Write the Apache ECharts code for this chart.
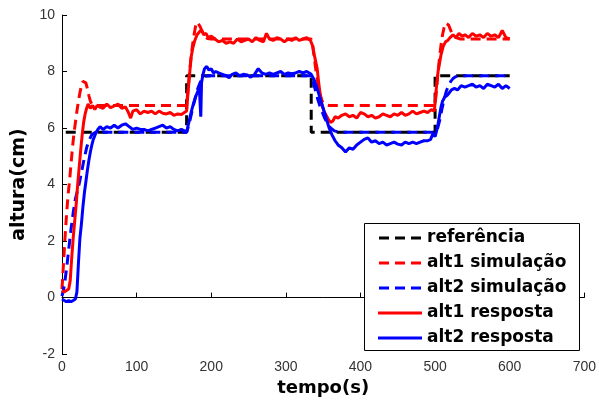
<!DOCTYPE html>
<html>
<head>
<meta charset="utf-8">
<script src="https://cdn.jsdelivr.net/npm/echarts@6/dist/echarts.min.js"></script>
<style>
  html, body { margin: 0; padding: 0; background: #fff; }
  #chart { width: 599px; height: 402px; }
</style>
</head>
<body>
<div id="chart"></div>
<script>
// referência (degraus)
const refTime = [5, 167, 167, 334, 334, 500, 500, 600];
const refHeight = [5.85, 5.85, 7.85, 7.85, 5.85, 5.85, 7.85, 7.85];

// alt1 simulação
const sim1Time = [0, 2, 4, 6, 8, 10, 12, 14, 16, 18, 20, 22, 24, 26, 28, 30, 32, 34, 36, 38, 40, 43, 47, 55,
  167, 169, 171, 173, 175, 177, 179, 181, 183, 185, 188, 191, 195, 200,
  334, 336, 338, 340, 342, 344, 346, 348, 350, 353, 358,
  500, 502, 504, 506, 508, 510, 512, 514, 516, 518, 521, 524, 528, 534, 600];
const sim1Height = [0.3, 1.2, 2.1, 2.9, 3.6, 4.1, 4.7, 5.3, 5.8, 6.2, 6.6, 6.95, 7.25, 7.5, 7.65, 7.7, 7.6, 7.4, 7.15, 6.95, 6.85, 6.8, 6.8, 6.8,
  6.8, 7.4, 8.0, 8.5, 8.95, 9.3, 9.6, 9.75, 9.72, 9.6, 9.4, 9.25, 9.17, 9.15,
  9.15, 8.9, 8.5, 8.1, 7.75, 7.45, 7.2, 7.0, 6.88, 6.82, 6.8,
  6.8, 7.4, 8.0, 8.5, 8.95, 9.3, 9.55, 9.72, 9.75, 9.65, 9.45, 9.3, 9.2, 9.15, 9.15];

// alt2 simulação
const sim2Time = [0, 3, 6, 9, 12, 15, 18, 21, 24, 27, 30, 33, 36, 40, 45,
  167, 170, 173, 176, 179, 182, 185, 188, 192, 198,
  334, 337, 340, 343, 346, 349, 352, 356, 360, 365, 372,
  500, 503, 506, 509, 512, 515, 518, 521, 524, 528, 534, 600];
const sim2Height = [0.05, 0.4, 1.0, 1.7, 2.4, 3.0, 3.5, 3.8, 4.15, 4.55, 4.95, 5.3, 5.55, 5.77, 5.85,
  5.85, 6.1, 6.45, 6.8, 7.1, 7.4, 7.6, 7.75, 7.83, 7.85,
  7.85, 7.6, 7.3, 7.0, 6.75, 6.55, 6.35, 6.15, 6.0, 5.9, 5.85,
  5.85, 5.95, 6.25, 6.65, 7.0, 7.3, 7.5, 7.65, 7.75, 7.82, 7.85, 7.85];

// alt1 resposta (medida)
const resp1Time = [0, 3, 6, 9, 11, 13, 15, 17, 19, 21, 23, 25, 27, 29, 31, 33, 35, 38, 41, 44,
  47, 50, 55, 60, 65, 70, 75, 80, 85, 89, 92, 95, 100, 105, 110, 115, 120, 125, 130, 135,
  140, 145, 150, 155, 160, 164, 167, 169, 171, 173, 175, 178, 181, 184, 187, 190, 193, 196, 200, 205,
  210, 215, 220, 225, 230, 235, 240, 245, 250, 255, 260, 265, 270, 274, 278, 283, 288, 293, 298, 303,
  308, 313, 318, 323, 328, 333, 336, 338, 340, 342, 344, 346, 348, 351, 354, 357, 360, 363, 366, 370,
  375, 380, 385, 390, 395, 400, 405, 410, 415, 420, 425, 430, 435, 440, 445, 450, 455, 460, 465, 470,
  475, 480, 485, 490, 495, 499, 502, 504, 506, 508, 511, 514, 517, 520, 524, 528, 532, 536, 540, 545,
  550, 555, 560, 565, 570, 575, 580, 585, 590, 595, 600];
const resp1Height = [0.25, 0.2, 0.25, 0.3, 0.6, 1.4, 2.1, 2.7, 3.3, 4.0, 4.6, 5.2, 5.75, 6.2, 6.5, 6.7, 6.85, 6.7, 6.8, 6.65,
  6.8, 6.75, 6.7, 6.85, 6.72, 6.78, 6.85, 6.7, 6.75, 6.55, 6.35, 6.6, 6.65, 6.5, 6.6, 6.55, 6.6, 6.5, 6.6, 6.52,
  6.5, 6.55, 6.45, 6.5, 6.48, 6.55, 6.6, 7.3, 7.9, 8.5, 8.8, 9.1, 9.3, 9.4, 9.47, 9.3, 9.35, 9.2, 9.25, 9.15,
  9.05, 9.1, 9.0, 9.05, 9.0, 9.15, 9.05, 9.1, 9.15, 9.05, 9.2, 9.1, 9.05, 9.35, 9.15, 9.1, 9.2, 9.15, 9.05, 9.15,
  9.1, 9.2, 9.1, 9.15, 9.2, 9.1, 8.9, 8.6, 8.35, 8.1, 7.6, 7.2, 6.85, 6.6, 6.45, 6.3, 6.2, 6.25, 6.4, 6.35,
  6.45, 6.5, 6.4, 6.45, 6.35, 6.55, 6.5, 6.4, 6.45, 6.35, 6.4, 6.5, 6.45, 6.4, 6.5, 6.45, 6.55, 6.45, 6.5, 6.6,
  6.5, 6.55, 6.6, 6.55, 6.65, 6.6, 7.5, 8.0, 8.3, 8.6, 8.9, 9.05, 9.1, 9.2, 9.3, 9.2, 9.35, 9.25, 9.3, 9.2,
  9.35, 9.25, 9.3, 9.2, 9.35, 9.25, 9.3, 9.2, 9.45, 9.2, 9.15];

// alt2 resposta (medida)
const resp2Time = [0, 3, 6, 9, 12, 15, 18, 20, 22, 24, 26, 28, 30, 32, 34, 36, 38, 40, 42, 45,
  48, 51, 55, 60, 65, 70, 75, 80, 85, 90, 95, 100, 105, 110, 115, 120, 125, 130, 135, 140,
  145, 150, 155, 160, 164, 167, 170, 173, 176, 179, 182, 184, 186, 187, 189, 191, 194, 197, 200, 203,
  206, 210, 215, 220, 224, 228, 233, 238, 243, 248, 253, 258, 263, 268, 273, 278, 283, 288, 293, 298,
  303, 308, 313, 318, 323, 328, 334, 338, 342, 346, 350, 354, 358, 362, 366, 370, 375, 380, 385, 390,
  395, 400, 405, 410, 415, 420, 425, 430, 435, 440, 445, 450, 455, 460, 465, 470, 475, 480, 485, 490,
  494, 497, 500, 502, 504, 506, 508, 510, 513, 516, 519, 522, 526, 530, 535, 540, 545, 550, 555, 560,
  565, 570, 575, 580, 585, 590, 595, 600];
const resp2Height = [-0.05, -0.1, -0.15, -0.1, -0.15, -0.1, -0.05, 0.2, 1.2, 2.1, 2.6, 3.2, 3.7, 4.1, 4.5, 4.85, 5.15, 5.4, 5.6, 5.8,
  5.95, 6.05, 5.95, 6.05, 6.0, 6.1, 6.0, 6.1, 6.15, 6.05, 5.95, 6.0, 5.95, 5.95, 5.9, 5.95, 6.0, 6.05, 6.1, 6.0,
  6.05, 5.95, 5.9, 5.95, 5.9, 5.85, 6.2, 6.55, 6.85, 7.1, 7.3, 7.45, 6.4, 7.6, 7.9, 8.1, 8.18, 8.05, 8.1, 7.95,
  8.0, 7.95, 7.9, 7.85, 7.78, 7.9, 7.95, 7.85, 7.9, 7.88, 7.8, 7.9, 8.1, 7.95, 7.9, 7.95, 7.9, 7.95, 8.0, 7.9,
  7.95, 7.92, 7.95, 8.0, 7.95, 8.0, 7.9, 7.7, 7.4, 7.05, 6.7, 6.35, 6.0, 5.75, 5.55, 5.4, 5.3, 5.15, 5.3, 5.25,
  5.4, 5.5, 5.6, 5.65, 5.5, 5.55, 5.45, 5.5, 5.4, 5.45, 5.5, 5.43, 5.4, 5.5, 5.45, 5.5, 5.45, 5.5, 5.55, 5.55,
  5.6, 5.8, 5.7, 5.9, 6.15, 6.45, 6.75, 6.95, 7.1, 7.15, 7.25, 7.35, 7.4, 7.35, 7.5, 7.45, 7.5, 7.55, 7.45, 7.5,
  7.4, 7.55, 7.5, 7.45, 7.55, 7.4, 7.5, 7.4];

const xTicks = { min: 0, max: 700, interval: 100 };
const yTicks = { min: -2, max: 10, interval: 2 };

function pairs(t, v) {
  return t.map((x, i) => [x, v[i]]);
}

const boldFont = '"DejaVu Sans", sans-serif';
const tickFont = '"Liberation Sans", Arial, sans-serif';
const dash = [10, 6];
// ícones da legenda: traço tracejado / contínuo
const dashIcon = 'path://M0,0H10V3H0Z M16,0H26V3H16Z M32,0H42V3H32Z';
const solidIcon = 'path://M0,0H44V3H0Z';

function lineSeries(name, t, v, color, type) {
  return {
    name: name,
    type: 'line',
    symbol: 'none',
    data: pairs(t, v),
    lineStyle: { color: color, width: 3, type: type },
    itemStyle: { color: color },
    emphasis: { disabled: true }
  };
}

const chart = echarts.init(document.getElementById('chart'));
chart.setOption({
  animation: false,
  backgroundColor: '#fff',
  grid: { left: 62, right: 12, top: 15, bottom: 45 },
  xAxis: {
    type: 'value',
    min: xTicks.min, max: xTicks.max, interval: xTicks.interval,
    name: 'tempo(s)', nameLocation: 'middle', nameGap: 21,
    nameTextStyle: { fontFamily: boldFont, fontWeight: 'bold', fontSize: 18, color: '#000' },
    axisLine: { lineStyle: { color: '#000', width: 1 } },
    axisTick: { inside: true, length: 5, lineStyle: { color: '#000' } },
    axisLabel: { fontFamily: tickFont, fontSize: 14, color: '#333', margin: 6 },
    splitLine: { show: false }
  },
  yAxis: {
    type: 'value',
    min: yTicks.min, max: yTicks.max, interval: yTicks.interval,
    name: 'altura(cm)', nameLocation: 'middle', nameGap: 27, nameRotate: 90,
    nameTextStyle: { fontFamily: boldFont, fontWeight: 'bold', fontSize: 19, color: '#000' },
    axisLine: { show: true, lineStyle: { color: '#000', width: 1 } },
    axisTick: { show: true, inside: true, length: 5, lineStyle: { color: '#000' } },
    axisLabel: { fontFamily: tickFont, fontSize: 14, color: '#333', margin: 7 },
    splitLine: { show: false }
  },
  graphic: [{
    type: 'rect', z: 3,
    shape: { x: 364.5, y: 223.5, width: 215, height: 127 },
    style: { fill: '#fff', stroke: '#000', lineWidth: 1 }
  }],
  legend: {
    orient: 'vertical', left: 378, top: 228, padding: 0, z: 5,
    itemWidth: 44, itemHeight: 3, itemGap: 5,
    textStyle: { fontFamily: boldFont, fontWeight: 'bold', fontSize: 17, lineHeight: 20, color: '#000' },
    data: [
      { name: 'referência', icon: dashIcon },
      { name: 'alt1 simulação', icon: dashIcon },
      { name: 'alt2 simulação', icon: dashIcon },
      { name: 'alt1 resposta', icon: solidIcon },
      { name: 'alt2 resposta', icon: solidIcon }
    ]
  },
  series: [
    lineSeries('referência', refTime, refHeight, '#000000', dash),
    lineSeries('alt1 simulação', sim1Time, sim1Height, '#ff0000', dash),
    lineSeries('alt2 simulação', sim2Time, sim2Height, '#0000ff', dash),
    lineSeries('alt1 resposta', resp1Time, resp1Height, '#ff0000', 'solid'),
    lineSeries('alt2 resposta', resp2Time, resp2Height, '#0000ff', 'solid')
  ]
});
</script>
</body>
</html>
